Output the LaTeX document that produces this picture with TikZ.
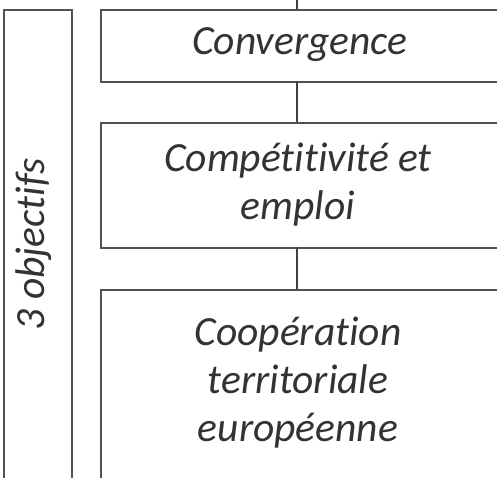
\documentclass[tikz,border=0pt]{standalone}
\usepackage{fontspec}
\setmainfont[Ligatures={NoCommon,NoDiscretionary}]{Carlito}
\begin{document}
\begin{tikzpicture}[x=1pt,y=-1pt,
  box/.style={draw=black!68, line width=2pt, fill=white, inner sep=0pt, anchor=north west},
  lbl/.style={font=\itshape\fontsize{41.5}{48}\selectfont, text=black!80, align=center},
  conn/.style={draw=black!75, line width=2.2pt}]
\useasboundingbox (0,0) rectangle (497,477);
\clip (0,0) rectangle (497,477);
\node[box, minimum width=68pt, minimum height=480pt] (side) at (2.5,9) {};
\node[lbl, rotate=90] (sidelbl) at (34,244) {3 objectifs};
\node[box, minimum width=405pt, minimum height=72pt] (b1) at (100,9) {};
\node[box, minimum width=405pt, minimum height=125pt] (b2) at (100,122) {};
\node[box, minimum width=405pt, minimum height=200pt] (b3) at (100,289) {};
\coordinate (top) at (297,0);
\draw[conn] (top) -- (297,9);
\draw[conn] (297,81) -- (297,122);
\draw[conn] (297,247) -- (297,289);
\node[lbl] (t1) at (300,45) {Convergence};
\node[lbl] (t2) at (298,185) {Compétitivité et\\emploi};
\node[lbl] (t3) at (298,383) {Coopération\\territoriale\\européenne};
\end{tikzpicture}
\end{document}
